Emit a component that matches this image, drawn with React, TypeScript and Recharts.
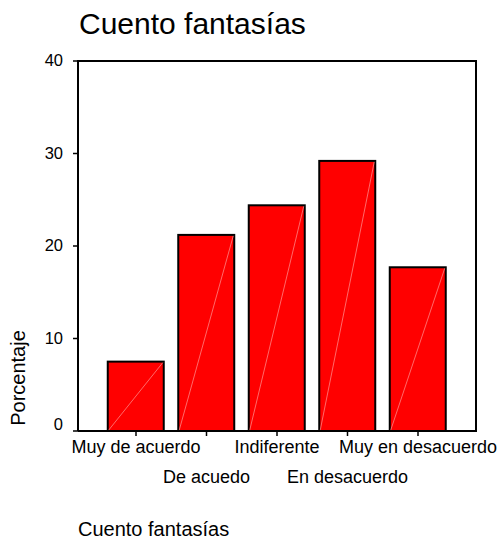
import React from 'react'
import { BarChart, Bar, XAxis, YAxis } from 'recharts'

const categories = [
  'Muy de acuerdo',
  'De acuedo',
  'Indiferente',
  'En desacuerdo',
  'Muy en desacuerdo',
]
const porcentajes = [7.5, 21.2, 24.4, 29.2, 17.7]
const yTicks = [0, 10, 20, 30, 40]

const data = categories.map((name, i) => ({ name, value: porcentajes[i] }))

const FONT = '"Liberation Sans", Arial, sans-serif'

// plot box (matches chart margins below)
const PLOT = { left: 78, top: 61, right: 476, bottom: 431 }

const XTick = (props: any) => {
  const { x, y, payload, index } = props
  const dy = index % 2 === 0 ? 15 : 45
  return (
    <text x={x} y={y + dy} textAnchor="middle" fontSize={18} fontFamily={FONT} fill="#000">
      {payload.value}
    </text>
  )
}

const YTick = (props: any) => {
  const { x, y, payload } = props
  const dy = payload.value === 0 ? -1 : 5
  return (
    <text x={x} y={y + dy} textAnchor="end" fontSize={16.5} fontFamily={FONT} fill="#000">
      {payload.value}
    </text>
  )
}

const BarShape = (props: any) => {
  const { x, y, width, height } = props
  return (
    <g>
      <rect x={x} y={y} width={width} height={height} fill="#ff0000" stroke="#000" strokeWidth={2} />
      <line
        x1={x + 1}
        y1={y + height - 1}
        x2={x + width - 1}
        y2={y + 1}
        stroke="#ffb0b0"
        strokeWidth={0.6}
      />
    </g>
  )
}

export default function App() {
  return (
    <div style={{ position: 'absolute', left: 0, top: 0, width: 504, height: 541, background: '#fff' }}>
      <BarChart
        width={504}
        height={541}
        data={data}
        margin={{ top: PLOT.top, right: 504 - PLOT.right, bottom: 0, left: 0 }}
      >
        <XAxis
          dataKey="name"
          height={541 - PLOT.bottom}
          interval={0}
          padding={{ left: 22.75, right: 22.75 }}
          axisLine={{ stroke: '#000', strokeWidth: 2 }}
          tickLine={{ stroke: '#000', strokeWidth: 1.5 }}
          tickSize={5}
          tick={<XTick />}
        />
        <YAxis
          domain={[0, 40]}
          ticks={yTicks}
          width={PLOT.left}
          axisLine={{ stroke: '#000', strokeWidth: 2 }}
          tickLine={{ stroke: '#000', strokeWidth: 1.5 }}
          tickSize={5}
          tickMargin={10}
          tick={<YTick />}
        />
        <Bar dataKey="value" barSize={56} shape={<BarShape />} isAnimationActive={false} />
      </BarChart>
      <svg
        width={504}
        height={541}
        style={{ position: 'absolute', left: 0, top: 0, pointerEvents: 'none' }}
      >
        <polyline
          points={`${PLOT.left - 1},${PLOT.top} ${PLOT.right},${PLOT.top} ${PLOT.right},${PLOT.bottom + 1}`}
          fill="none"
          stroke="#000"
          strokeWidth={2}
        />
        <text x={79} y={34} fontSize={30} fontFamily={FONT} fill="#000">
          Cuento fantasías
        </text>
        <text
          x={25}
          y={378}
          transform="rotate(-90, 25, 378)"
          textAnchor="middle"
          fontSize={20}
          fontFamily={FONT}
          fill="#000"
        >
          Porcentaje
        </text>
        <text x={78} y={536} fontSize={20} fontFamily={FONT} fill="#000">
          Cuento fantasías
        </text>
      </svg>
    </div>
  )
}
